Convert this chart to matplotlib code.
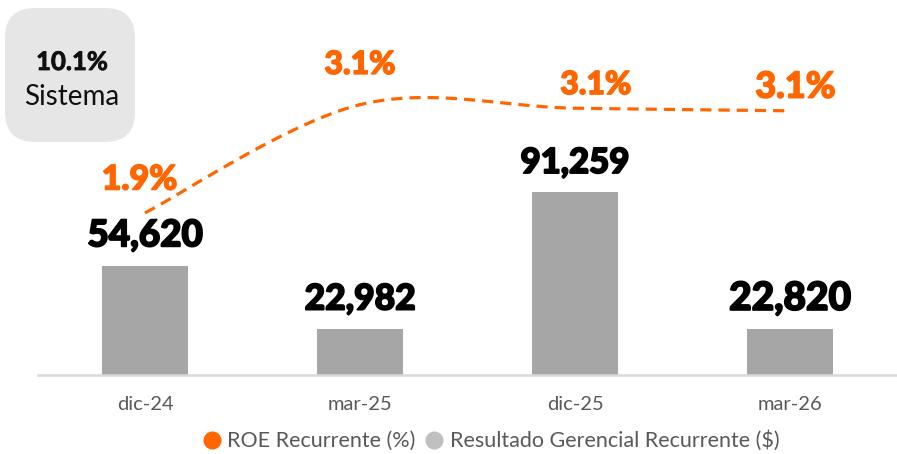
import numpy as np
import matplotlib
matplotlib.use("Agg")
import matplotlib.pyplot as plt
import matplotlib.patheffects as pe
from matplotlib.patches import FancyBboxPatch
from matplotlib.lines import Line2D

plt.rcParams['font.family'] = ['Lato', 'DejaVu Sans']

# datos
periodos = ['dic-24', 'mar-25', 'dic-25', 'mar-26']
resultado = [54620, 22982, 91259, 22820]
roe = [1.9, 3.13, 3.09, 3.06]
roe_sistema = 10.1

naranja = '#ff6600'
gris_barra = '#a6a6a6'
gris_texto = '#595959'

fig = plt.figure(figsize=(8.97, 4.54), dpi=100)
ax = fig.add_axes([37.5 / 897, 79 / 454, 860 / 897, 375 / 454])

x = np.arange(len(periodos))
ax.bar(x, resultado, width=0.4, color=gris_barra, zorder=2)
ax.set_xlim(-0.5, 3.5)
ax.set_ylim(0, 187500)
ax.set_xticks(x)
ax.set_xticklabels(periodos, fontsize=14.5, color=gris_texto)
ax.tick_params(axis='x', length=0, pad=15)
ax.set_yticks([])
for s in ['top', 'right', 'left']:
    ax.spines[s].set_visible(False)
ax.spines['bottom'].set_color('#d9d9d9')
ax.spines['bottom'].set_linewidth(1.8)

tam_barra = [26.5, 25.5, 25, 28]
for xi, v, t in zip(x, resultado, tam_barra):
    ax.annotate(f'{v:,}', (xi, v), xytext=(0, 14), textcoords='offset points',
                ha='center', va='baseline', fontsize=t, fontweight='black',
                color='black',
                path_effects=[pe.withStroke(linewidth=1.3, foreground='black')])

# ROE en eje secundario, linea suavizada (Catmull-Rom)
ax2 = ax.twinx()
ax2.set_ylim(0.057, 4.32)
ax2.axis('off')

px = np.array(x, dtype=float)
py = np.array(roe)
P = np.vstack([px, py]).T
P = np.vstack([P[0], P, P[-1]])
curva = []
for i in range(1, len(P) - 2):
    p0, p1, p2, p3 = P[i - 1], P[i], P[i + 1], P[i + 2]
    t = np.linspace(0, 1, 40)[:, None]
    seg = 0.5 * ((2 * p1) + (-p0 + p2) * t + (2 * p0 - 5 * p1 + 4 * p2 - p3) * t ** 2
                 + (-p0 + 3 * p1 - 3 * p2 + p3) * t ** 3)
    curva.append(seg)
curva = np.vstack(curva)
ax2.plot(curva[:, 0], curva[:, 1], color=naranja, lw=2.3, ls=(0, (3.5, 2.2)),
         dash_capstyle='butt', zorder=3)

off_roe = [(-4, 24), (0, 29), (15, 17), (4, 17)]
tam_roe = [24.5, 23, 23, 26]
for xi, v, o, t in zip(x, roe, off_roe, tam_roe):
    ax2.annotate(f'{v:.1f}%', (xi, v), xytext=o, textcoords='offset points',
                 ha='center', va='center', fontsize=t, fontweight='black',
                 color=naranja,
                 path_effects=[pe.withStroke(linewidth=1.1, foreground=naranja)])

# recuadro sistema
caja = FancyBboxPatch((0.13, 3.2), 1.14, 1.18,
                      boxstyle='round,pad=0.08,rounding_size=0.3',
                      transform=fig.dpi_scale_trans, facecolor='#e6e6e6',
                      edgecolor='none')
fig.patches.append(caja)
fig.text(72 / 897, 1 - 62 / 454, f'{roe_sistema}%', ha='center', va='center',
         fontsize=18.5, fontweight='bold', color='#111111',
         path_effects=[pe.withStroke(linewidth=0.6, foreground='#111111')])
fig.text(72 / 897, 1 - 97 / 454, 'Sistema', ha='center', va='center',
         fontsize=20, color='#111111')

# leyenda
handles = [Line2D([], [], marker='o', ls='none', color=naranja, markersize=12),
           Line2D([], [], marker='o', ls='none', color='#c0c0c0', markersize=12)]
fig.legend(handles, ['ROE Recurrente (%)', 'Resultado Gerencial Recurrente ($)'],
           loc='center', bbox_to_anchor=(490 / 897, 1 - 441 / 454), ncol=2,
           frameon=False, fontsize=15.5, labelcolor=gris_texto, handletextpad=0.2,
           columnspacing=0.4, handlelength=1.0)

fig.savefig('out.png', dpi=100)
